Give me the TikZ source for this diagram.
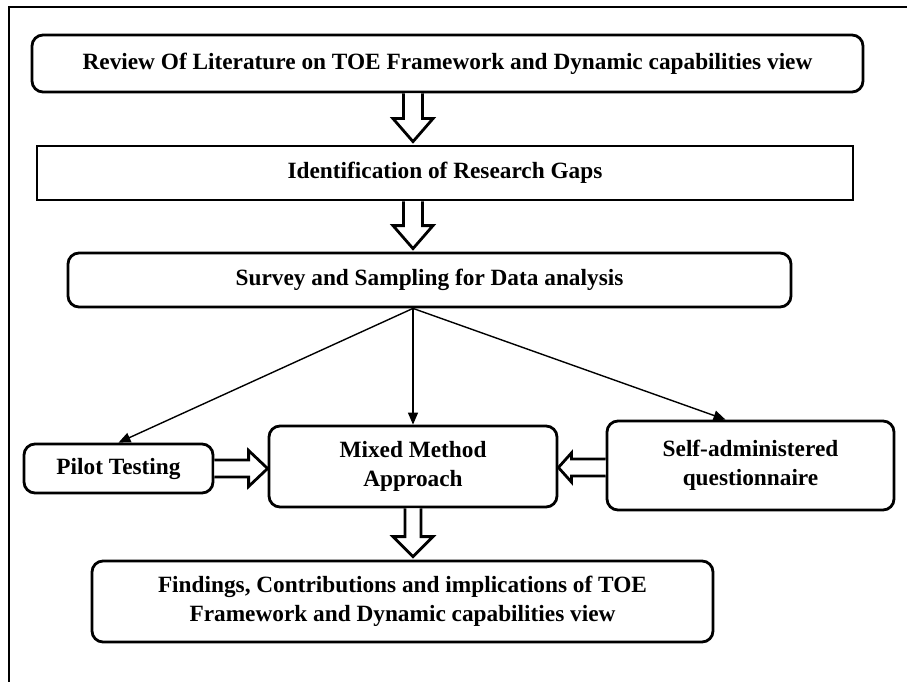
\documentclass[tikz,border=0pt]{standalone}
\usepackage{fontspec}
\setmainfont{Liberation Serif}
\usetikzlibrary{calc,arrows.meta}
\newcommand{\hollowarr}[5]{%
  \path ($(#2)!#5!(#1)$) coordinate (hb);
  \draw[blk] ($(#1)!#3!90:(#2)$) -- ($(hb)!#3!90:(#2)$) -- ($(hb)!#4!90:(#2)$) -- (#2)
    -- ($(hb)!#4!-90:(#2)$) -- ($(hb)!#3!-90:(#2)$) -- ($(#1)!#3!-90:(#2)$);
}
\begin{document}
\begin{tikzpicture}[x=1pt,y=1pt,
  every node/.style={font=\fontsize{23.3}{29.5}\selectfont\bfseries, align=center, inner sep=2pt},
  rbox/.style={draw, line width=2.8pt, rounded corners=11pt},
  sbox/.style={draw, line width=2.8pt},
  blk/.style={draw, line width=2.8pt, fill=white, line join=miter},
  thinarr/.style={line width=1.4pt, -{Triangle[length=12pt,width=10pt]}}]
\useasboundingbox (0,0) rectangle (907,-682);
\draw[line width=1.8pt] (9,-682) -- (9,-7) -- (907,-7);

\node[rbox, minimum width=831, minimum height=57] (r1) at (447.5,-63.5)
  {Review Of Literature on TOE Framework and Dynamic capabilities view};
\node[sbox, minimum width=816, minimum height=54] (r2) at (445,-173)
  {Identification of Research Gaps};
\node[rbox, minimum width=723, minimum height=54] (r3) at (429.5,-280)
  {Survey and Sampling for Data analysis};
\node[rbox, minimum width=189, minimum height=49] (pilot) at (118.5,-468.5)
  {Pilot Testing};
\node[rbox, minimum width=288, minimum height=81] (mixed) at (413,-466.5)
  {Mixed Method\\Approach};
\node[rbox, minimum width=287, minimum height=89] (self) at (750.5,-465.5)
  {Self-administered\\questionnaire};
\node[rbox, minimum width=621, minimum height=81] (find) at (402.5,-601.5)
  {Findings, Contributions and implications of TOE\\Framework and Dynamic capabilities view};

% hollow block arrows
\coordinate (a1s) at (r1.south -| mixed.north);
\coordinate (a1t) at ($(r2.north -| mixed.north)+(0,3)$);
\hollowarr{a1s}{a1t}{9.5pt}{20pt}{23pt}
\coordinate (a2s) at (r2.south -| mixed.north);
\coordinate (a2t) at ($(r3.north -| mixed.north)+(0,3)$);
\hollowarr{a2s}{a2t}{9.5pt}{20pt}{23pt}
\coordinate (a3s) at (mixed.south);
\coordinate (a3t) at ($(find.north -| mixed.south)+(0,3)$);
\hollowarr{a3s}{a3t}{8pt}{20pt}{20pt}
\coordinate (a4s) at (pilot.east);
\coordinate (a4t) at (mixed.west |- pilot.east);
\hollowarr{a4s}{a4t}{8.5pt}{18pt}{19pt}
\coordinate (a5s) at ($(self.west)+(0,-2)$);
\coordinate (a5t) at (mixed.east |- a5s);
\hollowarr{a5s}{a5t}{8.5pt}{14.5pt}{13pt}

% thin arrows
\coordinate (src) at (r3.south -| mixed.north);
\coordinate (selftip) at ($(self.north)+(-25,0)$);
\draw[thinarr] (src) -- (pilot.north);
\draw[thinarr] (src) -- (mixed.north);
\draw[thinarr] (src) -- (selftip);
\end{tikzpicture}
\end{document}
